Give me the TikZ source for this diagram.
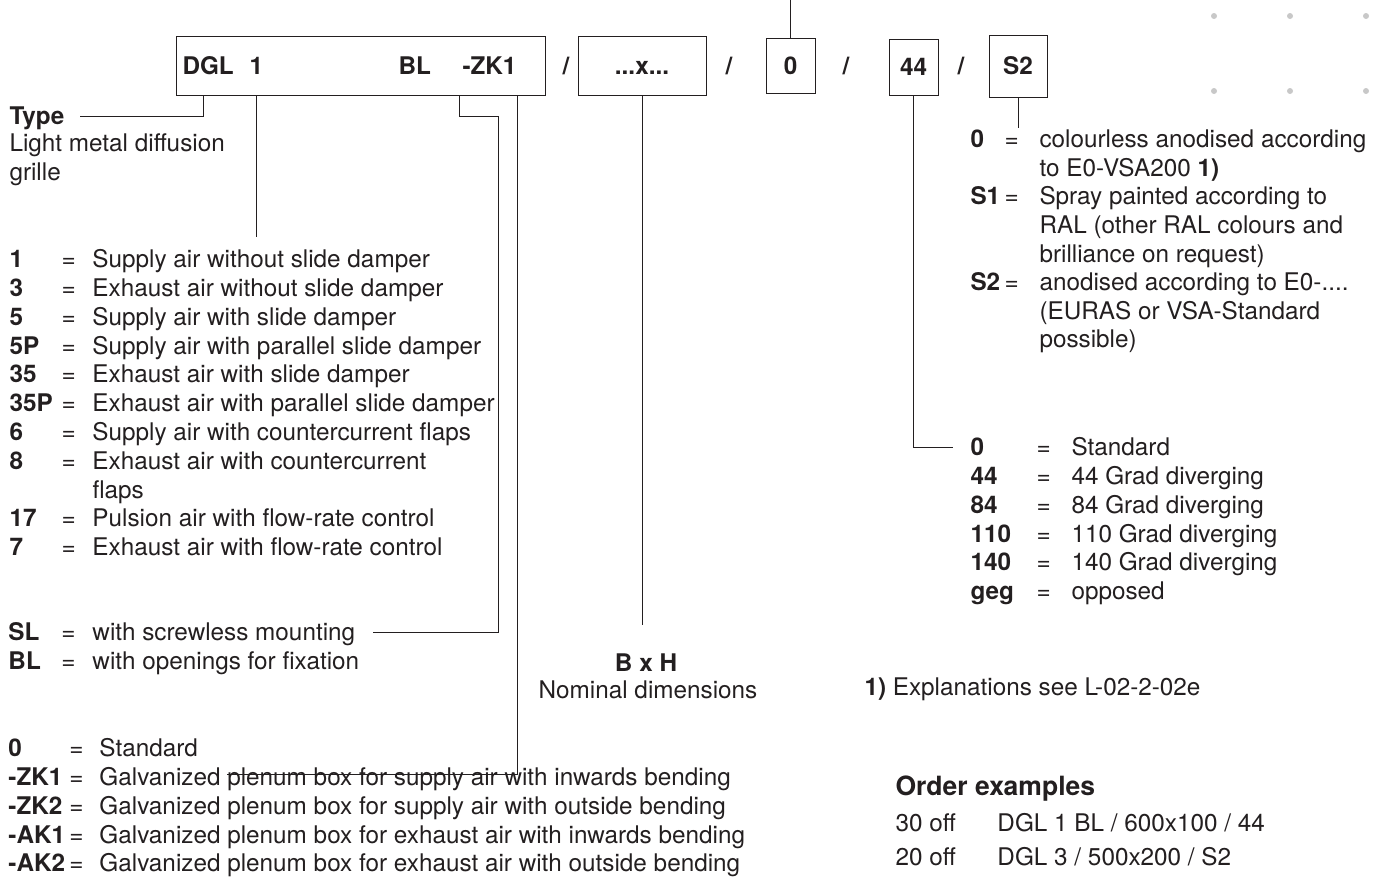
\documentclass[tikz,border=0pt]{standalone}
\usepackage{fontspec}
\setmainfont{TeX Gyre Heros}
\usetikzlibrary{positioning}
\definecolor{ink}{HTML}{231F20}
\definecolor{dotgray}{HTML}{C8C8C8}
\newcommand{\entry}[4]{\makebox[#1][l]{\bfseries #3}\makebox[#2][l]{=}#4}
\tikzset{
  lbl/.style={anchor=base west, inner sep=0pt},
  box/.style={draw, inner sep=0pt, text height=17.4pt, text depth=0pt, font=\fontsize{24.3}{29}\selectfont\bfseries},
}
\begin{document}
\begin{tikzpicture}[x=1pt, y=-1pt, font=\fontsize{24.3}{29}\selectfont, line width=1pt, color=ink]
\useasboundingbox (0,0) rectangle (1378,876);
\fill[dotgray] (1214,16) circle (3pt) (1290,16) circle (3pt) (1366,16) circle (3pt)
               (1214,91) circle (3pt) (1290,91) circle (3pt) (1366,91) circle (3pt);

% order code
\node (code) at (360.5,65.5) [box, minimum width=369pt, minimum height=59pt] {};
\node (tDGL) at (182,74) [lbl] {\bfseries DGL};
\node (tOne) at (249,74) [lbl] {\bfseries 1};
\node (tBL)  at (398,74) [lbl] {\bfseries BL};
\node (tZK)  at (462,74) [lbl] {\bfseries -ZK1};
\node (s1) at (566,74) [lbl, anchor=base] {\bfseries /};
\node (dim)  at (642,65.5)   [box, minimum width=128pt, minimum height=59pt] {...x...};
\node (s2) at (729,74) [lbl, anchor=base] {\bfseries /};
\node (zero) at (790.5,65.5) [box, minimum width=49pt, minimum height=55pt] {0};
\node (s3) at (846,74) [lbl, anchor=base] {\bfseries /};
\node (ang)  at (913.5,67)   [box, minimum width=49pt, minimum height=56pt] {44};
\node (s4) at (961,74) [lbl, anchor=base] {\bfseries /};
\node (sur)  at (1018,66)    [box, minimum width=58pt, minimum height=62pt] {S2};

% type
\node (Ty) at (9,124.7) [lbl] {\bfseries Type};
\node (Lm) at (9,151.7) [lbl] {Light metal diffusion};
\node (Gr) at (9,180.7) [lbl] {grille};

% models
\node (m1)  at (9,267.7) [lbl] {\entry{52pt}{31pt}{1}{Supply air without slide damper}};
\node (m3)  at (9,296.5) [lbl] {\entry{52pt}{31pt}{3}{Exhaust air without slide damper}};
\node (m5)  at (9,325.3) [lbl] {\entry{52pt}{31pt}{5}{Supply air with slide damper}};
\node (m5P) at (9,354.1) [lbl] {\entry{52pt}{31pt}{5P}{Supply air with parallel slide damper}};
\node (m35) at (9,382.9) [lbl] {\entry{52pt}{31pt}{35}{Exhaust air with slide damper}};
\node (m35P) at (9,411.7) [lbl] {\entry{52pt}{31pt}{35P}{Exhaust air with parallel slide damper}};
\node (m6)  at (9,440.5) [lbl] {\entry{52pt}{31pt}{6}{Supply air with countercurrent flaps}};
\node (m8)  at (9,469.3) [lbl] {\entry{52pt}{31pt}{8}{Exhaust air with countercurrent}};
\node (m8b) at (92,498.1) [lbl] {flaps};
\node (m17) at (9,526.9) [lbl] {\entry{52pt}{31pt}{17}{Pulsion air with flow-rate control}};
\node (m7)  at (9,555.7) [lbl] {\entry{52pt}{31pt}{7}{Exhaust air with flow-rate control}};

% mounting
\node (SL) at (8,640.7) [lbl] {\entry{53pt}{31pt}{SL}{with screwless mounting}};
\node (BL) at (8,669.7) [lbl] {\entry{53pt}{31pt}{BL}{with openings for fixation}};

% plenum boxes
\node (p0)   at (8,756.7) [lbl] {\entry{61pt}{30pt}{0}{Standard}};
\node (pZK1) at (8,785.5) [lbl] {\entry{61pt}{30pt}{-ZK1}{Galvanized plenum box for supply air with inwards bending}};
\node (pZK2) at (8,814.3) [lbl] {\entry{61pt}{30pt}{-ZK2}{Galvanized plenum box for supply air with outside bending}};
\node (pAK1) at (8,843.1) [lbl] {\entry{61pt}{30pt}{-AK1}{Galvanized plenum box for exhaust air with inwards bending}};
\node (pAK2) at (8,871.9) [lbl] {\entry{61pt}{30pt}{-AK2}{Galvanized plenum box for exhaust air with outside bending}};
\coordinate (pl) at (227,774);

% dimensions
\node (BxH) at (646,671.7) [lbl, anchor=base] {\bfseries B x H};
\node (Nd)  at (648,698.7) [lbl, anchor=base] {Nominal dimensions};

% surface
\node (f0)  at (970,147.7) [lbl] {\entry{34pt}{35pt}{0}{colourless anodised according}};
\node (f0b) at (1039,176.3) [lbl] {to E0-VSA200 \textbf{1)}};
\node (fS1) at (970,204.9) [lbl] {\entry{34pt}{35pt}{S1}{Spray painted according to}};
\node (fS1b) at (1039,233.5) [lbl] {RAL (other RAL colours and};
\node (fS1c) at (1039,262.1) [lbl] {brilliance on request)};
\node (fS2) at (970,290.7) [lbl] {\entry{34pt}{35pt}{S2}{anodised according to E0-....}};
\node (fS2b) at (1039,319.3) [lbl] {(EURAS or VSA-Standard};
\node (fS2c) at (1039,347.9) [lbl] {possible)};

% blade angle
\node (a0)   at (970,455.7) [lbl] {\entry{66pt}{35pt}{0}{Standard}};
\node (a44)  at (970,484.5) [lbl] {\entry{66pt}{35pt}{44}{44 Grad diverging}};
\node (a84)  at (970,513.3) [lbl] {\entry{66pt}{35pt}{84}{84 Grad diverging}};
\node (a110) at (970,542.1) [lbl] {\entry{66pt}{35pt}{110}{110 Grad diverging}};
\node (a140) at (970,570.9) [lbl] {\entry{66pt}{35pt}{140}{140 Grad diverging}};
\node (ageg) at (970,599.7) [lbl] {\entry{66pt}{35pt}{geg}{opposed}};

% notes
\node (fn) at (864,695.7) [lbl] {\textbf{1)} Explanations see L-02-2-02e};
\node (Oe) at (895,795.5) [lbl, font=\fontsize{26.5}{30}\selectfont\bfseries] {Order examples};
\node (o1) at (895,831.7) [lbl] {\makebox[102pt][l]{30 off}DGL 1 BL / 600x100 / 44};
\node (o2) at (895,865.7) [lbl] {\makebox[102pt][l]{20 off}DGL 3 / 500x200 / S2};

% leaders
\draw (code.south -| 203,0) |- ([xshift=15pt, yshift=8.7pt]Ty.base east);
\draw (code.south -| tOne) -- (tOne |- 0,237);
\draw (code.south -| 459,0) |- (498,116) |- ([xshift=17pt, yshift=8.7pt]SL.base east);
\draw (code.south -| 517,0) |- (pl);
\draw (dim.south) -- (dim.south |- 0,625);
\draw (zero.north) -- (zero.north |- 0,0);
\draw (ang.south) |- ([xshift=-17pt, yshift=8.7pt]a0.base west);
\draw (sur.south) -- (sur.south |- 0,128);
\end{tikzpicture}
\end{document}
